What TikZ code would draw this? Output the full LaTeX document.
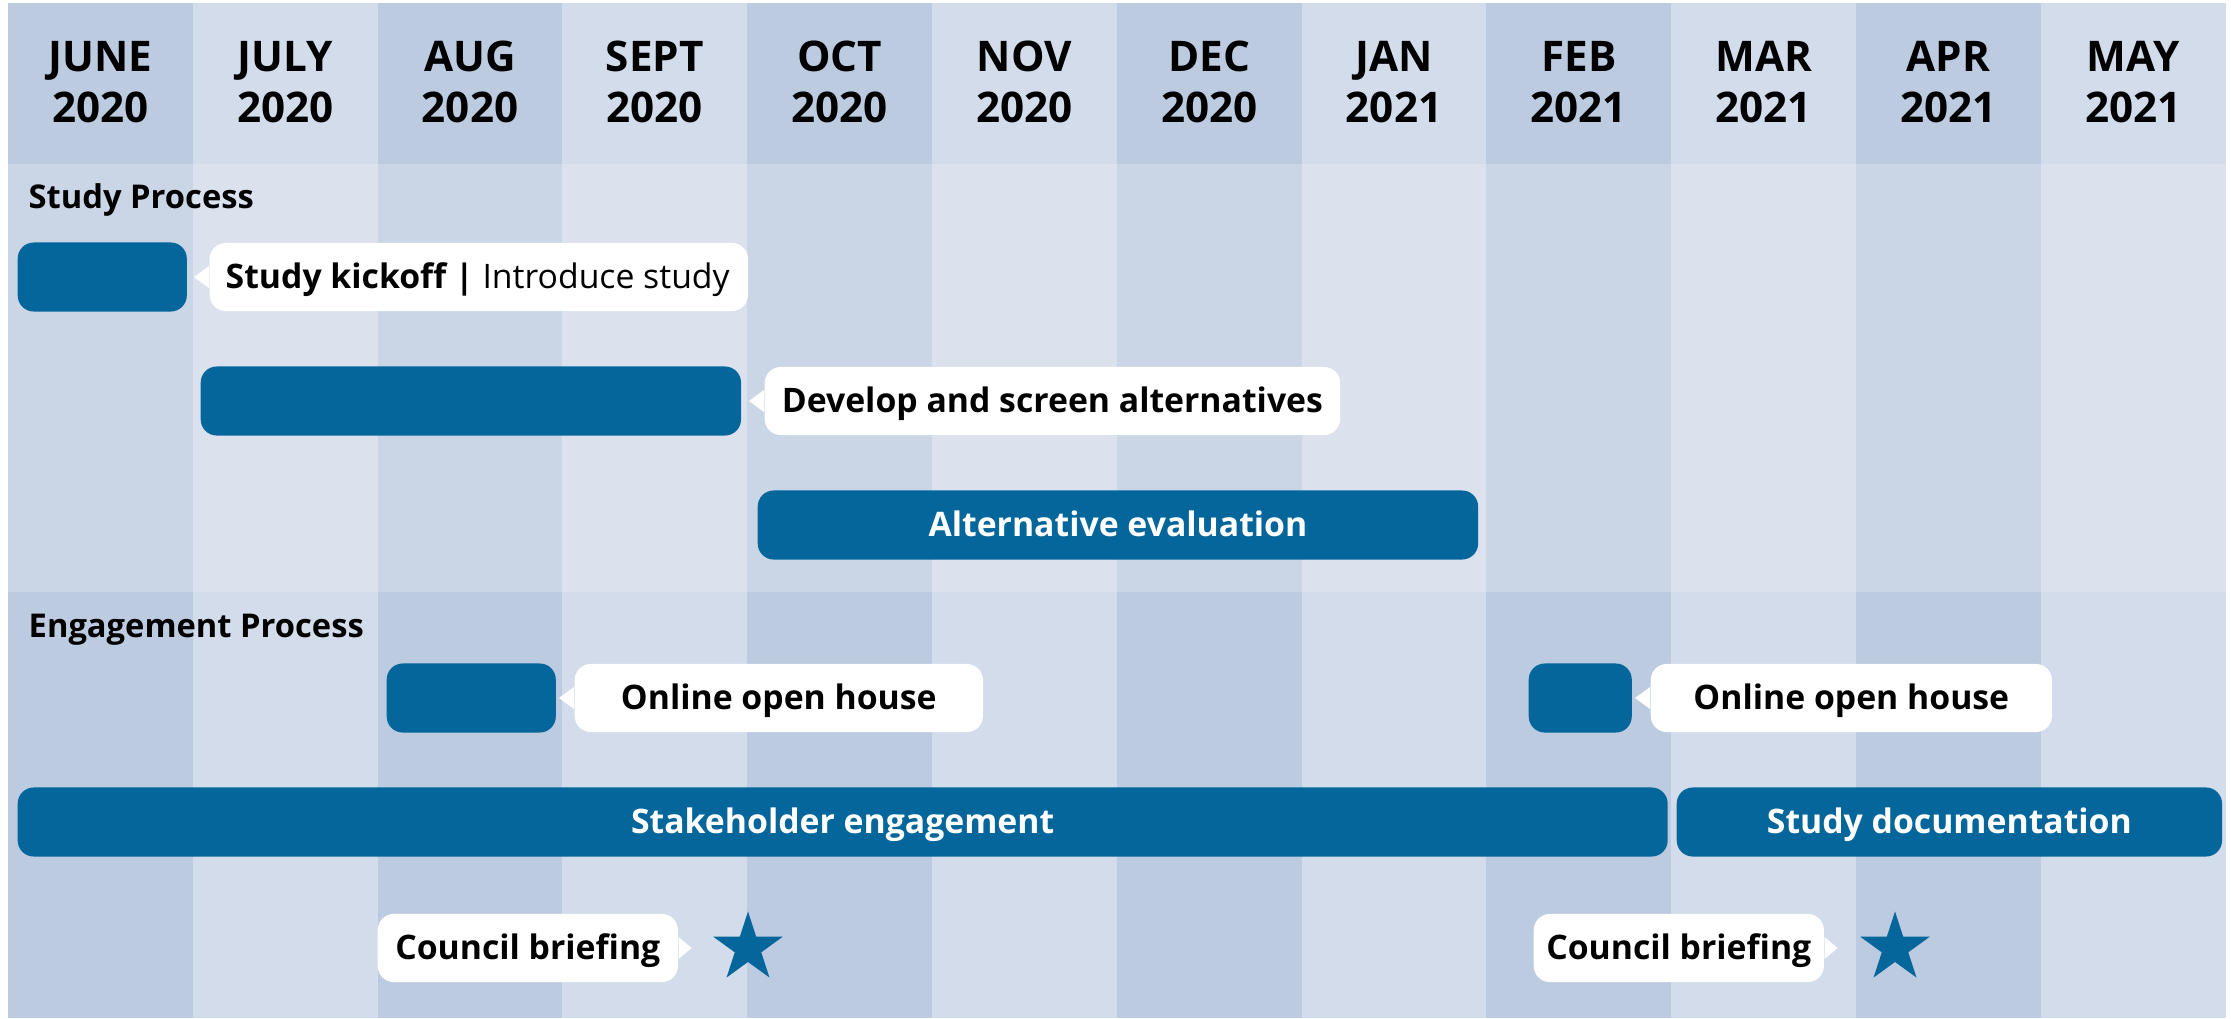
\documentclass[tikz,border=0pt]{standalone}
\usepackage{fontspec}
\setmainfont{Open Sans}
\usepackage{xcolor}
\usetikzlibrary{shapes.geometric}

\definecolor{barblue}{HTML}{04669A}
\definecolor{hdA}{HTML}{BCCBDF}
\definecolor{hdB}{HTML}{D2DCEA}
\definecolor{stA}{HTML}{CAD6E6}
\definecolor{stB}{HTML}{DBE2EE}

\begin{document}
\begin{tikzpicture}[
    x=0.01cm, y=-0.01cm,
    every node/.style={font=\fontsize{9.6}{11}\selectfont},
    month/.style={font=\fontsize{12}{14.3}\selectfont\bfseries, align=center},
    sect/.style={font=\fontsize{9.3}{11}\selectfont\bfseries, anchor=west, inner sep=0},
    bar/.style={fill=barblue, rounded corners=0.16cm, minimum height=0.69cm, inner sep=0, anchor=west, text=white,
      text height=6.9pt, text depth=0.2pt, font=\fontsize{9.6}{11}\selectfont\bfseries},
    note/.style={fill=white, rounded corners=0.16cm, minimum height=0.68cm, inner sep=0, anchor=west,
      text height=6.9pt, text depth=0.2pt, font=\fontsize{9.6}{11}\selectfont\bfseries},
    mile/.style={star, star points=5, star point ratio=2.618, fill=barblue, minimum size=0.73cm, inner sep=0}
]
\useasboundingbox (0,0) rectangle (2231,1018);
\fill[white] (0,0) rectangle (2231,1018);

% month columns
\foreach \m/\yr [count=\i from 0] in {JUNE/2020,JULY/2020,AUG/2020,SEPT/2020,OCT/2020,NOV/2020,DEC/2020,JAN/2021,FEB/2021,MAR/2021,APR/2021,MAY/2021}{
  \ifodd\i \def\sh{B}\else\def\sh{A}\fi
  \fill[hd\sh] (8+184.8*\i,3) rectangle ++(184.8,161);
  \fill[st\sh] (8+184.8*\i,164) rectangle ++(184.8,428);
  \fill[hd\sh] (8+184.8*\i,592) rectangle ++(184.8,426);
  \node[month] (mon\i) at (100.4+184.8*\i,82) {\m\\\yr};
}

% study process
\node[sect] (study) at (28,200) {Study Process};
\node[bar, minimum width=1.69cm] (kick) at (17,277) {};
\node[note, inner xsep=0.16cm] (kickn) at (209,277) {\makebox[5.06cm][l]{Study kickoff | \mdseries Introduce study}};
\node[bar, minimum width=5.40cm] (dev) at (200,401) {};
\node[note, minimum width=5.75cm] (devn) at (764,401) {Develop and screen alternatives};
\node[bar, minimum width=7.20cm] (alt) at (757,525) {Alternative evaluation};

% engagement process
\node[sect] (engage) at (28,630) {Engagement Process};
\node[bar, minimum width=1.69cm] (ooha) at (386,698) {};
\node[note, minimum width=4.08cm] (oohan) at (574,698) {Online open house};
\node[bar, minimum width=1.03cm] (oohb) at (1528,698) {};
\node[note, minimum width=4.01cm] (oohbn) at (1650,698) {Online open house};
\node[bar, minimum width=16.49cm] (stake) at (17,822) {Stakeholder engagement};
\node[bar, minimum width=5.45cm] (doc) at (1676,822) {Study documentation};

% council briefings
\node[note, minimum width=3.00cm] (cba) at (377,948) {Council briefing};
\node[mile] (stara) at (748,948) {};
\node[note, minimum width=2.90cm] (cbb) at (1533,948) {Council briefing};
\node[mile] (starb) at (1895,948) {};

% pointers
\foreach \n in {kickn,devn,oohan,oohbn}
  \fill[white] ([yshift=0.11cm]\n.west) -- ([xshift=-0.15cm]\n.west) -- ([yshift=-0.11cm]\n.west) -- cycle;
\foreach \n in {cba,cbb}
  \fill[white] ([yshift=0.11cm]\n.east) -- ([xshift=0.13cm]\n.east) -- ([yshift=-0.11cm]\n.east) -- cycle;
\end{tikzpicture}
\end{document}
